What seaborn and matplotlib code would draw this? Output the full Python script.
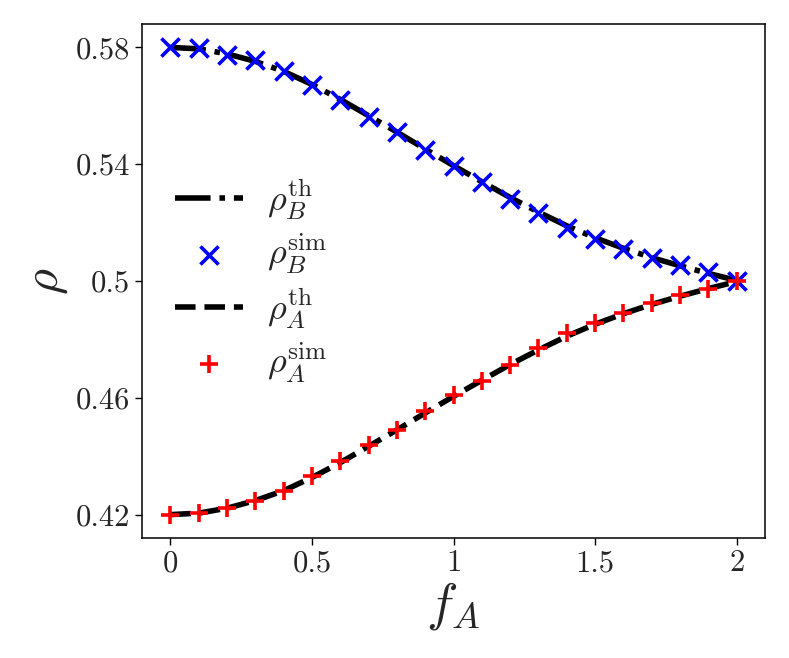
import numpy as np
import matplotlib
matplotlib.use("Agg")
import matplotlib.pyplot as plt
import seaborn as sns

# data
f_A = [0.0, 0.1, 0.2, 0.3, 0.4, 0.5, 0.6, 0.7, 0.8, 0.9, 1.0,
       1.1, 1.2, 1.3, 1.4, 1.5, 1.6, 1.7, 1.8, 1.9, 2.0]

rho_B_th = [0.5800, 0.5795, 0.5778, 0.5752, 0.5718, 0.5673, 0.5622, 0.5566,
            0.5510, 0.5452, 0.5395, 0.5340, 0.5286, 0.5236, 0.5189, 0.5148,
            0.5112, 0.5080, 0.5052, 0.5026, 0.5002]
rho_B_sim = [0.5800, 0.5797, 0.5775, 0.5757, 0.5720, 0.5671, 0.5619, 0.5563,
             0.5511, 0.5449, 0.5394, 0.5338, 0.5280, 0.5232, 0.5180, 0.5145,
             0.5111, 0.5080, 0.5054, 0.5031, 0.5000]
rho_A_th = [0.4200, 0.4205, 0.4222, 0.4248, 0.4282, 0.4327, 0.4378, 0.4434,
            0.4490, 0.4548, 0.4605, 0.4660, 0.4714, 0.4764, 0.4811, 0.4852,
            0.4888, 0.4920, 0.4948, 0.4974, 0.4998]
rho_A_sim = [0.4200, 0.4206, 0.4223, 0.4246, 0.4280, 0.4331, 0.4383, 0.4440,
             0.4491, 0.4554, 0.4610, 0.4657, 0.4714, 0.4772, 0.4823, 0.4857,
             0.4891, 0.4923, 0.4951, 0.4971, 0.5000]

xticks = [0, 0.5, 1, 1.5, 2]
xtick_labels = ["0", "0.5", "1", "1.5", "2"]
yticks = [0.42, 0.46, 0.5, 0.54, 0.58]
ytick_labels = ["0.42", "0.46", "0.5", "0.54", "0.58"]

sns.set_style("ticks")
plt.rcParams["font.family"] = "serif"
plt.rcParams["font.serif"] = ["cmr10", "DejaVu Serif"]
plt.rcParams["mathtext.fontset"] = "cm"
plt.rcParams["axes.formatter.use_mathtext"] = True

fig, ax = plt.subplots(figsize=(7.89, 6.58), dpi=100)
fig.subplots_adjust(left=0.18, right=0.9696, top=0.9635, bottom=0.1824)

sns.lineplot(x=f_A, y=rho_B_th, ax=ax, color="black", linewidth=4,
             linestyle="-.", label=r"$\rho_B^{\mathrm{th}}$", zorder=2)
sns.scatterplot(x=f_A, y=rho_B_sim, ax=ax, color="#0000ff", marker="x",
                s=170, linewidth=2.6, label=r"$\rho_B^{\mathrm{sim}}$", zorder=3)
sns.lineplot(x=f_A, y=rho_A_th, ax=ax, color="black", linewidth=4,
             linestyle="--", label=r"$\rho_A^{\mathrm{th}}$", zorder=4)
sns.scatterplot(x=f_A, y=rho_A_sim, ax=ax, color="#ff0000", marker="+",
                s=170, linewidth=2.6, label=r"$\rho_A^{\mathrm{sim}}$", zorder=5)

ax.set_xticks(xticks, xtick_labels)
ax.set_yticks(yticks, ytick_labels)
ax.tick_params(labelsize=22, length=5, width=1, color="black")
for sp in ax.spines.values():
    sp.set_color("black")
    sp.set_linewidth(1.1)

ax.set_xlabel(r"$f_A$", fontsize=38, labelpad=2)
ax.set_ylabel(r"$\rho$", fontsize=36)

ax.legend(loc="center left", frameon=False, fontsize=26, handlelength=1.9,
          labelspacing=0.28, handletextpad=0.65)

fig.savefig("out.png", dpi=100)
